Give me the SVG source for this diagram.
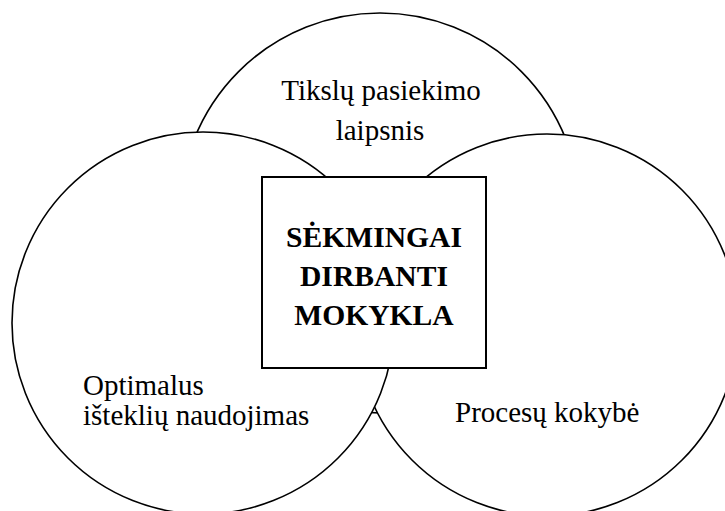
<svg xmlns="http://www.w3.org/2000/svg" width="725" height="511" viewBox="0 0 725 511">
  <style>
    .c { fill: #ffffff; stroke: #000000; stroke-width: 1.6; }
    .r { fill: #ffffff; stroke: #000000; stroke-width: 2; }
    .t { font-family: "Liberation Serif", "Times New Roman", serif; font-size: 29px; fill: #000000; }
    .b { font-family: "Liberation Serif", "Times New Roman", serif; font-size: 29.6px; font-weight: bold; fill: #000000; text-anchor: middle; }
  </style>
  <rect x="0" y="0" width="725" height="511" fill="#ffffff"/>
  <g id="node-goals">
    <circle class="c" cx="380" cy="213" r="200"/>
  </g>
  <g id="node-process">
    <circle class="c" cx="547" cy="325" r="191"/>
  </g>
  <g id="node-resources">
    <circle class="c" cx="203" cy="323" r="191"/>
  </g>
  <g id="node-center">
    <rect class="r" x="262" y="177" width="224" height="191"/>
    <text class="b" x="374" y="247">SĖKMINGAI</text>
    <text class="b" x="374" y="286">DIRBANTI</text>
    <text class="b" x="374" y="325">MOKYKLA</text>
  </g>
  <g id="labels">
    <text class="t" x="381" y="100" text-anchor="middle">Tikslų pasiekimo</text>
    <text class="t" x="380" y="140" text-anchor="middle">laipsnis</text>
    <text class="t" x="83" y="395">Optimalus</text>
    <text class="t" x="83" y="425">išteklių naudojimas</text>
    <text class="t" x="455" y="422">Procesų kokybė</text>
  </g>
  <g id="connectors"></g>
</svg>
